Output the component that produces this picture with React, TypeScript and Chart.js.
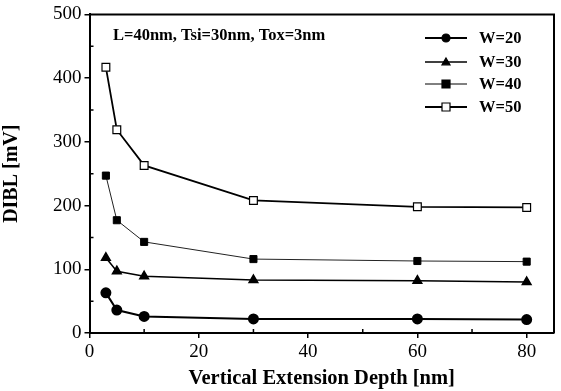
import React, { useEffect, useRef } from "react";
import { Chart, registerables } from "chart.js";

Chart.register(...registerables);

const depths = [3, 5, 10, 30, 60, 80];
const w20 = [63, 36, 26, 22, 22, 21];
const w30 = [118, 97, 89, 83, 82, 80];
const w40 = [247, 177, 143, 116, 113, 112];
const w50 = [417, 319, 263, 208, 198, 197];
const seriesLabels = ["W=20", "W=30", "W=40", "W=50"];
const xTicks = [0, 20, 40, 60, 80];
const yTicks = [0, 100, 200, 300, 400, 500];
const annotation = "L=40nm, Tsi=30nm, Tox=3nm";

const SERIF = '"Liberation Serif", "DejaVu Serif", serif';

const frameAndLegend = {
  id: "frameAndLegend",
  afterDraw(chart: any) {
    const { ctx, chartArea } = chart;
    const { left, right, top, bottom } = chartArea;
    ctx.save();
    ctx.strokeStyle = "#000";
    ctx.lineWidth = 2;
    ctx.beginPath();
    ctx.moveTo(left, top);
    ctx.lineTo(right, top);
    ctx.lineTo(right, bottom);
    ctx.stroke();
    const xs = chart.scales.x;
    const ys = chart.scales.y;
    ctx.lineWidth = 1.5;
    ctx.beginPath();
    for (let v = 10; v <= 80; v += 20) {
      const px = xs.getPixelForValue(v);
      ctx.moveTo(px, bottom);
      ctx.lineTo(px, bottom - 4);
    }
    for (let v = 50; v <= 500; v += 100) {
      const py = ys.getPixelForValue(v);
      ctx.moveTo(left, py);
      ctx.lineTo(left + 4, py);
    }
    ctx.stroke();
    ctx.fillStyle = "#000";
    ctx.font = `bold 16.5px ${SERIF}`;
    ctx.textBaseline = "middle";
    ctx.textAlign = "left";
    ctx.fillText(annotation, 113, 36);
    const rows = [38, 62, 84, 107];
    chart.data.datasets.forEach((ds: any, i: number) => {
      const y = rows[i];
      ctx.strokeStyle = "#000";
      ctx.lineWidth = ds.borderWidth;
      ctx.beginPath();
      ctx.moveTo(425, y);
      ctx.lineTo(467, y);
      ctx.stroke();
      ctx.lineWidth = 1.2;
      ctx.fillStyle = ds.pointBackgroundColor;
      ctx.strokeStyle = "#000";
      const cx = 446;
      const r = 4;
      ctx.beginPath();
      if (ds.pointStyle === "circle") {
        ctx.arc(cx, y, r, 0, Math.PI * 2);
      } else if (ds.pointStyle === "triangle") {
        ctx.moveTo(cx, y - r);
        ctx.lineTo(cx + r, y + r * 0.7);
        ctx.lineTo(cx - r, y + r * 0.7);
        ctx.closePath();
      } else {
        ctx.rect(cx - r, y - r, 2 * r, 2 * r);
      }
      ctx.fill();
      ctx.stroke();
      ctx.fillStyle = "#000";
      ctx.font = `bold 16.5px ${SERIF}`;
      ctx.fillText(ds.label, 479, y + 1);
    });
    ctx.restore();
  },
};

export default function App() {
  const ref = useRef<HTMLCanvasElement>(null);
  useEffect(() => {
    const toPts = (arr: number[]) => depths.map((d, i) => ({ x: d, y: arr[i] }));
    const chart = new Chart(ref.current!, {
      type: "line",
      data: {
        datasets: [
          {
            label: seriesLabels[0],
            data: toPts(w20),
            borderColor: "#000",
            borderWidth: 2,
            pointStyle: "circle",
            pointRadius: 4.5,
            pointBackgroundColor: "#000",
            pointBorderColor: "#000",
          },
          {
            label: seriesLabels[1],
            data: toPts(w30),
            borderColor: "#000",
            borderWidth: 1.5,
            pointStyle: "triangle",
            pointRadius: 5,
            pointBackgroundColor: "#000",
            pointBorderColor: "#000",
          },
          {
            label: seriesLabels[2],
            data: toPts(w40),
            borderColor: "#222",
            borderWidth: 1,
            pointStyle: "rect",
            pointRadius: 5,
            pointBackgroundColor: "#000",
            pointBorderColor: "#000",
          },
          {
            label: seriesLabels[3],
            data: toPts(w50),
            borderColor: "#000",
            borderWidth: 1.8,
            pointStyle: "rect",
            pointRadius: 5.5,
            pointBorderWidth: 1.2,
            pointBackgroundColor: "#fff",
            pointBorderColor: "#000",
          },
        ] as any,
      },
      options: {
        animation: false,
        responsive: false,
        layout: { padding: { top: 13, right: 7, left: 0, bottom: 0 } },
        plugins: { legend: { display: false }, tooltip: { enabled: false } },
        scales: {
          x: {
            type: "linear",
            min: 0,
            max: 85,
            afterBuildTicks: (s: any) => {
              s.ticks = xTicks.map((v) => ({ value: v }));
            },
            afterFit: (s: any) => {
              s.height = 58;
            },
            ticks: {
              color: "#000",
              font: { family: SERIF, size: 19 },
              padding: 3,
              maxRotation: 0,
            },
            grid: { drawOnChartArea: false, tickLength: 5, color: "#000", lineWidth: 1.5 },
            border: { color: "#000", width: 2 },
            title: {
              display: true,
              text: "Vertical Extension Depth [nm]",
              color: "#000",
              font: { family: SERIF, size: 20.5, weight: "bold" },
              padding: { top: 0, bottom: 0 },
            },
          },
          y: {
            type: "linear",
            min: 0,
            max: 500,
            afterBuildTicks: (s: any) => {
              s.ticks = yTicks.map((v) => ({ value: v }));
            },
            afterFit: (s: any) => {
              s.width = 89.5;
            },
            ticks: {
              color: "#000",
              font: { family: SERIF, size: 19 },
              padding: 3,
            },
            grid: { drawOnChartArea: false, tickLength: 5, color: "#000", lineWidth: 1.5 },
            border: { color: "#000", width: 2 },
            title: {
              display: true,
              text: "DIBL [mV]",
              color: "#000",
              font: { family: SERIF, size: 20, weight: "bold" },
              padding: { top: 0, bottom: 4 },
            },
          },
        },
      } as any,
      plugins: [frameAndLegend],
    });
    return () => chart.destroy();
  }, []);
  return (
    <div style={{ position: "fixed", left: 0, top: 0, width: 561, height: 391, background: "#fff" }}>
      <canvas ref={ref} width={561} height={391} />
    </div>
  );
}
